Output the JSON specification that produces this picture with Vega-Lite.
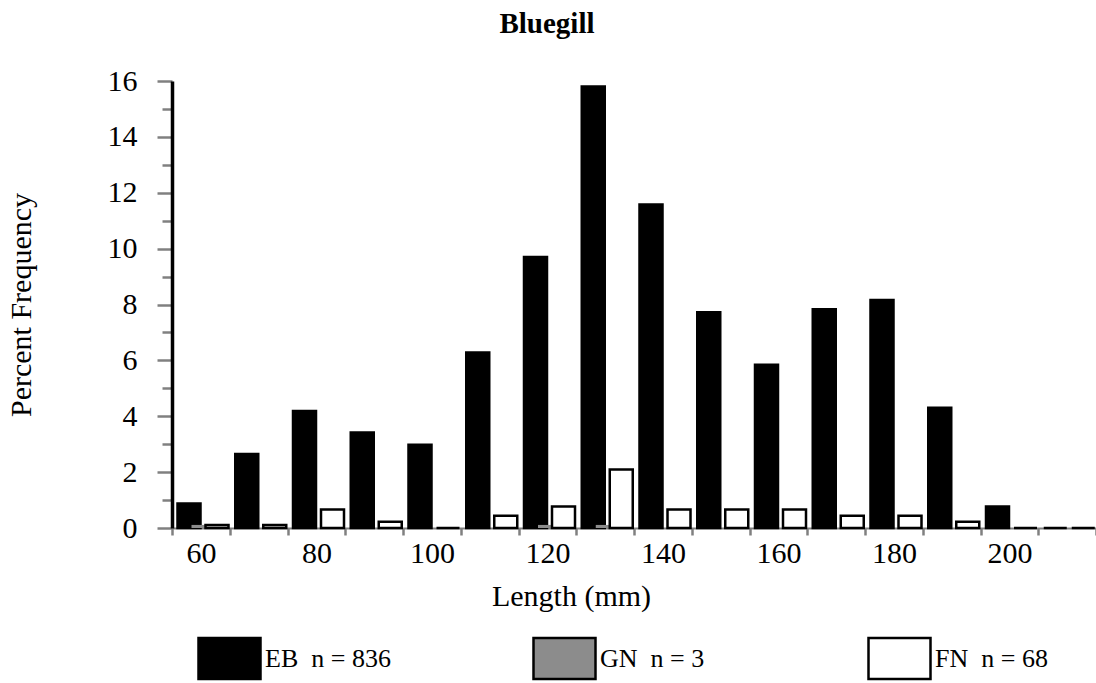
{
  "$schema": "https://vega.github.io/schema/vega-lite/v6.json",
  "width": 924,
  "height": 447,
  "autosize": {"type": "none"},
  "padding": {"left": 172, "top": 81, "right": 0, "bottom": 155},
  "background": "white",
  "config": {"view": {"stroke": null}},
  "title": {"text": "Bluegill", "font": "Liberation Serif", "fontSize": 29, "fontWeight": "bold", "color": "black", "anchor": "middle", "dx": -87, "offset": 27},
  "data": {"values": [
    {"length": 60, "gear": "EB", "pct": 0.88}, {"length": 60, "gear": "GN", "pct": 0.11}, {"length": 60, "gear": "FN", "pct": 0.11},
    {"length": 70, "gear": "EB", "pct": 2.65}, {"length": 70, "gear": "GN", "pct": 0}, {"length": 70, "gear": "FN", "pct": 0.11},
    {"length": 80, "gear": "EB", "pct": 4.19}, {"length": 80, "gear": "GN", "pct": 0}, {"length": 80, "gear": "FN", "pct": 0.66},
    {"length": 90, "gear": "EB", "pct": 3.42}, {"length": 90, "gear": "GN", "pct": 0}, {"length": 90, "gear": "FN", "pct": 0.22},
    {"length": 100, "gear": "EB", "pct": 2.98}, {"length": 100, "gear": "GN", "pct": 0}, {"length": 100, "gear": "FN", "pct": 0},
    {"length": 110, "gear": "EB", "pct": 6.28}, {"length": 110, "gear": "GN", "pct": 0}, {"length": 110, "gear": "FN", "pct": 0.44},
    {"length": 120, "gear": "EB", "pct": 9.7}, {"length": 120, "gear": "GN", "pct": 0.11}, {"length": 120, "gear": "FN", "pct": 0.77},
    {"length": 130, "gear": "EB", "pct": 15.8}, {"length": 130, "gear": "GN", "pct": 0.11}, {"length": 130, "gear": "FN", "pct": 2.09},
    {"length": 140, "gear": "EB", "pct": 11.58}, {"length": 140, "gear": "GN", "pct": 0}, {"length": 140, "gear": "FN", "pct": 0.66},
    {"length": 150, "gear": "EB", "pct": 7.72}, {"length": 150, "gear": "GN", "pct": 0}, {"length": 150, "gear": "FN", "pct": 0.66},
    {"length": 160, "gear": "EB", "pct": 5.84}, {"length": 160, "gear": "GN", "pct": 0}, {"length": 160, "gear": "FN", "pct": 0.66},
    {"length": 170, "gear": "EB", "pct": 7.83}, {"length": 170, "gear": "GN", "pct": 0}, {"length": 170, "gear": "FN", "pct": 0.44},
    {"length": 180, "gear": "EB", "pct": 8.16}, {"length": 180, "gear": "GN", "pct": 0}, {"length": 180, "gear": "FN", "pct": 0.44},
    {"length": 190, "gear": "EB", "pct": 4.3}, {"length": 190, "gear": "GN", "pct": 0}, {"length": 190, "gear": "FN", "pct": 0.22},
    {"length": 200, "gear": "EB", "pct": 0.77}, {"length": 200, "gear": "GN", "pct": 0}, {"length": 200, "gear": "FN", "pct": 0},
    {"length": 210, "gear": "EB", "pct": 0}, {"length": 210, "gear": "GN", "pct": 0}, {"length": 210, "gear": "FN", "pct": 0}
  ]},
  "mark": {"type": "bar", "width": 23, "strokeWidth": 2.5, "strokeJoin": "miter"},
  "encoding": {
    "x": {
      "field": "length", "type": "ordinal",
      "scale": {"paddingInner": 0, "paddingOuter": 0},
      "axis": {
        "title": "Length (mm)", "labelAngle": 0,
        "labelExpr": "datum.value % 20 == 0 ? datum.label : ''",
        "labelFont": "Liberation Serif", "labelFontSize": 30, "labelColor": "black", "labelPadding": 3,
        "titleFont": "Liberation Serif", "titleFontSize": 30, "titleFontWeight": "normal", "titleColor": "black", "titlePadding": 13,
        "titleX": 399, "titleAlign": "center",
        "domainColor": "#808080", "domainWidth": 2,
        "tickColor": "#808080", "tickWidth": 2.5, "tickSize": 7, "tickBand": "extent"
      }
    },
    "xOffset": {"field": "gear", "type": "nominal", "sort": ["EB", "GN", "FN"], "scale": {"paddingInner": 0, "paddingOuter": 0.5625, "align": 0.635}},
    "y": {
      "field": "pct", "type": "quantitative",
      "scale": {"domain": [0, 16], "nice": false},
      "axis": {
        "title": "Percent Frequency",
        "values": [0, 1, 2, 3, 4, 5, 6, 7, 8, 9, 10, 11, 12, 13, 14, 15, 16],
        "labelExpr": "datum.value % 2 == 0 ? datum.label : ''",
        "labelFont": "Liberation Serif", "labelFontSize": 30, "labelColor": "black", "labelPadding": 20,
        "titleFont": "Liberation Serif", "titleFontSize": 30, "titleFontWeight": "normal", "titleColor": "black", "titlePadding": 71,
        "domainColor": "black", "domainWidth": 3.5,
        "tickColor": "#808080", "tickWidth": 2.5,
        "tickSize": {"condition": {"test": "datum.value % 2 == 0", "value": 15}, "value": 10},
        "grid": false
      }
    },
    "fill": {
      "field": "gear", "type": "nominal", "sort": ["EB", "GN", "FN"],
      "scale": {"domain": ["EB", "GN", "FN"], "range": ["black", "#8c8c8c", "white"]},
      "legend": {
        "title": null, "orient": "none", "legendX": 25, "legendY": 545,
        "direction": "horizontal", "columns": 3, "gridAlign": "all", "columnPadding": 137,
        "padding": 0,
        "symbolType": "M-1,-0.66L1,-0.66L1,0.66L-1,0.66Z", "symbolSize": 3844,
        "symbolStrokeColor": "black", "symbolStrokeWidth": 2.5,
        "labelFont": "Liberation Serif", "labelFontSize": 26, "labelColor": "black", "labelOffset": 3,
        "labelLimit": 300,
        "labelExpr": "datum.label == 'EB' ? 'EB\u00a0\u00a0n = 836' : datum.label == 'GN' ? 'GN\u00a0\u00a0n = 3' : 'FN\u00a0\u00a0n = 68'"
      }
    },
    "stroke": {"condition": {"test": "datum.gear === 'GN'", "value": "transparent"}, "value": "black"}
  }
}
